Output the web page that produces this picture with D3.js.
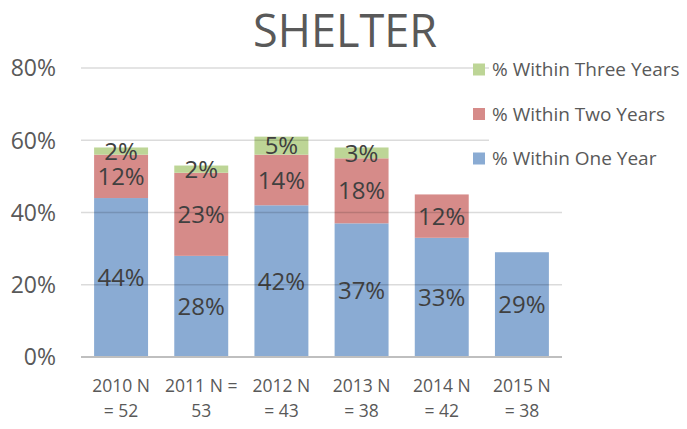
<!DOCTYPE html>
<html>
<head>
<meta charset="utf-8">
<script src="https://cdn.jsdelivr.net/npm/d3@7"></script>
<style>
body{margin:0;background:#fff;}
svg{display:block;font-family:"Open Sans","Noto Sans",sans-serif;}
</style>
</head>
<body>
<svg id="chart" width="687" height="429"></svg>
<script>
const categories = [["2010 N", "= 52"], ["2011 N =", "53"], ["2012 N", "= 43"], ["2013 N", "= 38"], ["2014 N", "= 42"], ["2015 N", "= 38"]];
const oneYear = [44, 28, 42, 37, 33, 29];
const twoYears = [12, 23, 14, 18, 12, 0];
const threeYears = [2, 2, 5, 3, 0, 0];
const seriesNames = ["% Within One Year", "% Within Two Years", "% Within Three Years"];
const colors = ["#8aabd3", "#d68b89", "#bdd596"];
const yTicks = [0, 20, 40, 60, 80];
const title = "SHELTER";

const svg = d3.select("#chart");
const keys = categories.map(c => c.join(" "));
const x = d3.scaleBand().domain(keys).range([81, 562]).paddingInner(0.327).paddingOuter(0.1635);
const y = d3.scaleLinear().domain([0, 80]).range([357, 68]);

const rows = keys.map((k, i) => ({key: k, s0: oneYear[i], s1: twoYears[i], s2: threeYears[i]}));
const stacked = d3.stack().keys(["s0", "s1", "s2"])(rows);

// title
svg.append("text").attr("x", 345).attr("y", 47).attr("text-anchor", "middle")
  .attr("font-size", 45).attr("fill", "#595959").text(title);

// y axis labels
svg.append("g").selectAll("text").data(yTicks).join("text")
  .attr("x", 56).attr("y", d => y(d)).attr("dy", "0.36em").attr("text-anchor", "end")
  .attr("font-size", 23).attr("fill", "#595959").text(d => d + "%");

// bars
const g = svg.append("g");
stacked.forEach((layer, si) => {
  g.selectAll(null).data(layer).join("rect")
    .attr("x", d => x(d.data.key)).attr("width", x.bandwidth())
    .attr("y", d => y(d[1])).attr("height", d => y(d[0]) - y(d[1]))
    .attr("fill", colors[si]);
});

// gridlines (over bars, translucent)
svg.append("g").selectAll("line").data(yTicks.filter(d => d > 0)).join("line")
  .attr("x1", 81).attr("x2", 562).attr("y1", d => y(d)).attr("y2", d => y(d))
  .attr("stroke", "rgba(0,0,0,0.14)").attr("stroke-width", 1.5);
svg.append("line").attr("x1", 81).attr("x2", 562).attr("y1", y(0)).attr("y2", y(0))
  .attr("stroke", "#bfbfbf").attr("stroke-width", 2);

// data labels
stacked.forEach((layer, si) => {
  g.selectAll(null).data(layer.filter(d => d[1] - d[0] > 0)).join("text")
    .attr("x", d => x(d.data.key) + x.bandwidth() / 2)
    .attr("y", d => y((d[0] + d[1]) / 2)).attr("dy", "0.36em")
    .attr("text-anchor", "middle").attr("font-size", 24).attr("fill", "#404040")
    .text(d => (d[1] - d[0]) + "%");
});

// x labels
const xl = svg.append("g").selectAll("text").data(categories).join("text")
  .attr("text-anchor", "middle").attr("font-size", 17.5).attr("fill", "#595959");
xl.each(function(c, i) {
  const t = d3.select(this);
  const cx = x(keys[i]) + x.bandwidth() / 2;
  c.forEach((line, j) => {
    t.append("tspan").attr("x", cx).attr("y", 392 + j * 25).text(line);
  });
});

// legend
const legendOrder = [2, 1, 0];
const lg = svg.append("g");
lg.append("rect").attr("x", 489).attr("y", 55).attr("width", 198).attr("height", 118).attr("fill", "#fff");
legendOrder.forEach((si, j) => {
  const cy = 69.5 + j * 44.5;
  lg.append("rect").attr("x", 473).attr("y", cy - 6).attr("width", 12).attr("height", 12).attr("fill", colors[si]);
  lg.append("text").attr("x", 492).attr("y", cy).attr("dy", "0.35em")
    .attr("font-size", 19).attr("fill", "#595959").text(seriesNames[si]);
});
</script>
</body>
</html>
